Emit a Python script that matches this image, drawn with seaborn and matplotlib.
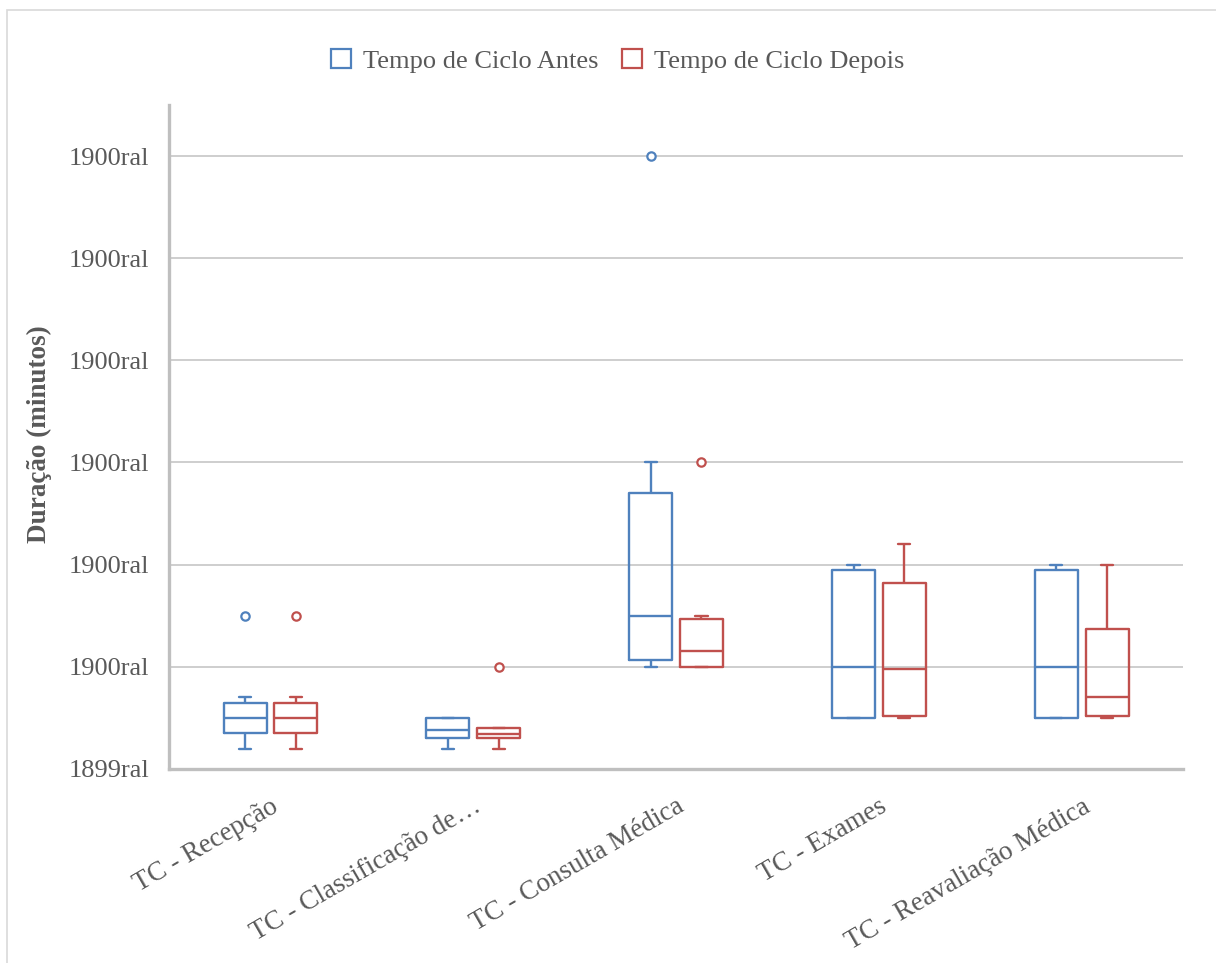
import numpy as np
import pandas as pd
import matplotlib
matplotlib.use("Agg")
import matplotlib.pyplot as plt
from matplotlib.patches import Patch, Rectangle
from matplotlib.ticker import FixedLocator, FixedFormatter
import seaborn as sns

# Etapas do processo
etapas = [
    "TC - Recepção",
    "TC - Classificação de…",
    "TC - Consulta Médica",
    "TC - Exames",
    "TC - Reavaliação Médica",
]
series = ["Tempo de Ciclo Antes", "Tempo de Ciclo Depois"]

# Resumo de cinco números por etapa (mín, Q1, mediana, Q3, máx), em minutos
antes = [
    [2.0, 3.5, 5.0, 6.5, 7.0],
    [2.0, 3.0, 3.8, 5.0, 5.0],
    [10.0, 10.7, 15.0, 27.0, 30.0],
    [5.0, 5.0, 10.0, 19.5, 20.0],
    [5.0, 5.0, 10.0, 19.5, 20.0],
]
depois = [
    [2.0, 3.5, 5.0, 6.5, 7.0],
    [2.0, 3.0, 3.4, 4.0, 4.0],
    [10.0, 10.0, 11.5, 14.7, 15.0],
    [5.0, 5.2, 9.8, 18.2, 22.0],
    [5.0, 5.2, 7.0, 13.7, 20.0],
]

# Valores atípicos
outlier_etapa = ["TC - Recepção", "TC - Recepção", "TC - Classificação de…",
                 "TC - Consulta Médica", "TC - Consulta Médica"]
outlier_serie = ["Tempo de Ciclo Antes", "Tempo de Ciclo Depois", "Tempo de Ciclo Depois",
                 "Tempo de Ciclo Antes", "Tempo de Ciclo Depois"]
outlier_valor = [15.0, 15.0, 10.0, 60.0, 30.0]

# Eixo Y
y_ticks = [0, 10, 20, 30, 40, 50, 60]
y_labels = ["1899ral", "1900ral", "1900ral", "1900ral", "1900ral", "1900ral", "1900ral"]

cores = ["#4F81BD", "#C0504D"]
cinza_texto = "#595959"

rows = []
for serie, resumo in zip(series, [antes, depois]):
    for etapa, vals in zip(etapas, resumo):
        for v in vals:
            rows.append({"etapa": etapa, "serie": serie, "valor": v})
df = pd.DataFrame(rows)
df_out = pd.DataFrame({"etapa": outlier_etapa, "serie": outlier_serie, "valor": outlier_valor})

sns.set_theme(style="white")
plt.rcParams["font.family"] = ["Liberation Serif", "DejaVu Serif"]

fig = plt.figure(figsize=(12.16, 9.63), dpi=100)
ax = fig.add_axes([0.139, 0.2015, 0.834, 0.6895])

sns.boxplot(
    data=df, x="etapa", y="valor", hue="serie",
    order=etapas, hue_order=series, palette=cores,
    fill=False, width=0.5, gap=0.15, whis=(0, 100),
    linewidth=1.7, legend=False, ax=ax, capwidths=0.06,
)

sns.pointplot(
    data=df_out, x="etapa", y="valor", hue="serie",
    order=etapas, hue_order=series, palette=cores,
    dodge=0.25, linestyle="none", errorbar=None,
    marker="o", markersize=6, markerfacecolor="white",
    markeredgewidth=1.6, legend=False, ax=ax,
)
for line in ax.lines:
    if line.get_marker() == "o":
        line.set_markerfacecolor("white")
        line.set_markeredgecolor(line.get_color())

ax.set_xlim(-0.5, 4.5)
ax.set_ylim(0, 65)
ax.yaxis.set_major_locator(FixedLocator(y_ticks))
ax.yaxis.set_major_formatter(FixedFormatter(y_labels))
ax.grid(axis="y", color="#c6c6c6", linewidth=1.2)
ax.set_axisbelow(True)

for side in ["top", "right"]:
    ax.spines[side].set_visible(False)
for side in ["left", "bottom"]:
    ax.spines[side].set_color("#bfbfbf")
    ax.spines[side].set_linewidth(2.4)

ax.tick_params(axis="y", length=0, pad=14, labelsize=19, labelcolor=cinza_texto)
ax.tick_params(axis="x", length=0, pad=18, labelsize=19.5, labelcolor=cinza_texto)
for lbl in ax.get_xticklabels():
    lbl.set_rotation(30)
    lbl.set_ha("right")
    lbl.set_va("top")
    lbl.set_rotation_mode("anchor")

ax.set_xlabel("")
ax.set_ylabel("Duração (minutos)", fontsize=19.5, fontweight="bold", color=cinza_texto)
ax.yaxis.set_label_coords(-0.115, 0.505)

handles = [Patch(facecolor="white", edgecolor=c, linewidth=1.6) for c in cores]
fig.legend(
    handles, series, loc="center", bbox_to_anchor=(0.508, 0.937), ncol=2,
    frameon=False, fontsize=19, labelcolor=cinza_texto,
    handlelength=0.75, handleheight=0.75, handletextpad=0.45, columnspacing=0.9,
)

fig.patches.append(Rectangle((7 / 1216, -0.01), 1.02, 1 - 10 / 963 + 0.01,
                             transform=fig.transFigure, fill=False,
                             edgecolor="#d9d9d9", linewidth=1.2))

fig.savefig("out.png", dpi=100, facecolor="white")
